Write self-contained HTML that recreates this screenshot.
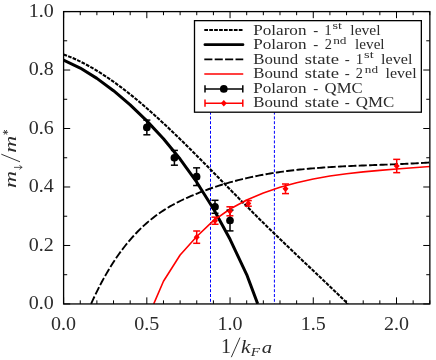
<!DOCTYPE html>
<html><head><meta charset="utf-8"><title>chart</title>
<style>
html,body{margin:0;padding:0;background:#fff;}
svg{display:block;font-family:"Liberation Serif",serif;will-change:transform;transform:translateZ(0);}
text{fill:#2b2b2b;}
</style></head><body>
<svg width="436" height="360" viewBox="0 0 436 360">
<rect x="0" y="0" width="436" height="360" fill="#ffffff"/>
<defs><clipPath id="cp"><rect x="63.6" y="11.6" width="366.25" height="292.34999999999997"/></clipPath></defs>

<g clip-path="url(#cp)" fill="none">
<line x1="210.50" x2="210.50" y1="30" y2="303.95" stroke="#0000ff" stroke-width="1.0" stroke-dasharray="3.0 1.8"/>
<line x1="274.40" x2="274.40" y1="30" y2="303.95" stroke="#0000ff" stroke-width="1.0" stroke-dasharray="3.0 1.8"/>
<path d="M63.50,54.42 L66.37,55.48 L69.25,56.61 L72.12,57.81 L74.99,59.08 L77.86,60.40 L80.74,61.79 L83.61,63.25 L86.48,64.76 L89.35,66.33 L92.23,67.96 L95.10,69.65 L97.97,71.39 L100.85,73.19 L103.72,75.04 L106.59,76.94 L109.46,78.89 L112.34,80.89 L115.21,82.94 L118.08,85.03 L120.95,87.17 L123.83,89.35 L126.70,91.58 L129.57,93.85 L132.45,96.16 L135.32,98.50 L138.19,100.89 L141.06,103.31 L143.94,105.76 L146.81,108.25 L149.68,110.77 L152.55,113.33 L155.43,115.91 L158.30,118.52 L161.17,121.16 L164.05,123.83 L166.92,126.52 L169.79,129.23 L172.66,131.97 L175.54,134.73 L178.41,137.50 L181.28,140.30 L184.15,143.11 L187.03,145.94 L189.90,148.79 L192.77,151.64 L195.65,154.51 L198.52,157.39 L201.39,160.28 L204.26,163.18 L207.14,166.09 L210.01,169.00 L212.88,171.92 L215.75,174.84 L218.63,177.76 L221.50,180.69 L224.37,183.62 L227.25,186.54 L230.12,189.47 L232.99,192.39 L235.86,195.31 L238.74,198.23 L241.61,201.14 L244.48,204.04 L247.35,206.93 L250.23,209.82 L253.10,212.69 L255.97,215.56 L258.85,218.41 L261.72,221.25 L264.59,224.07 L267.46,226.88 L270.34,229.68 L273.21,232.47 L276.08,235.25 L278.95,238.02 L281.83,240.79 L284.70,243.54 L287.57,246.29 L290.45,249.03 L293.32,251.76 L296.19,254.50 L299.06,257.23 L301.94,259.95 L304.81,262.68 L307.68,265.40 L310.55,268.12 L313.43,270.85 L316.30,273.57 L319.17,276.30 L322.05,279.03 L324.92,281.77 L327.79,284.51 L330.66,287.25 L333.54,290.00 L336.41,292.76 L339.28,295.53 L342.15,298.31 L345.03,301.09 L347.90,303.89" stroke="#000" stroke-width="2.1" stroke-dasharray="3.7 1.23"/>
<path d="M63.50,60.00 L80.25,68.08 L96.89,78.35 L113.53,90.69 L130.18,104.93 L146.82,120.89 L163.47,138.77 L180.11,159.03 L196.76,182.18 L213.40,208.75 L230.05,239.32 L246.69,274.54 L257.70,303.89" stroke="#000" stroke-width="3.0" stroke-linejoin="round"/>
<path d="M91.10,303.84 L93.23,299.18 L95.36,294.68 L97.49,290.32 L99.63,286.12 L101.76,282.06 L103.89,278.14 L106.02,274.35 L108.15,270.70 L110.28,267.17 L112.41,263.78 L114.55,260.50 L116.68,257.33 L118.81,254.28 L120.94,251.34 L123.07,248.51 L125.20,245.77 L127.33,243.13 L129.47,240.59 L131.60,238.13 L133.73,235.76 L135.86,233.48 L137.99,231.27 L140.12,229.15 L142.25,227.10 L144.39,225.13 L146.52,223.23 L148.65,221.40 L150.78,219.64 L152.91,217.94 L155.04,216.31 L157.17,214.73 L159.31,213.22 L161.44,211.76 L163.57,210.35 L165.70,209.00 L167.83,207.69 L169.96,206.44 L172.09,205.22 L174.23,204.05 L176.36,202.92 L178.49,201.83 L180.62,200.77 L182.75,199.74 L184.88,198.74 L187.02,197.78 L189.15,196.83 L191.28,195.91 L193.41,195.02 L195.54,194.14 L197.67,193.28 L199.80,192.44 L201.94,191.61 L204.07,190.81 L206.20,190.02 L208.33,189.25 L210.46,188.50 L212.59,187.76 L214.72,187.04 L216.86,186.34 L218.99,185.65 L221.12,184.98 L223.25,184.33 L225.38,183.69 L227.51,183.06 L229.64,182.46 L231.78,181.86 L233.91,181.29 L236.04,180.72 L238.17,180.17 L240.30,179.64 L242.43,179.12 L244.56,178.61 L246.70,178.12 L248.83,177.64 L250.96,177.17 L253.09,176.72 L255.22,176.28 L257.35,175.85 L259.48,175.43 L261.62,175.03 L263.75,174.63 L265.88,174.25 L268.01,173.88 L270.14,173.52 L272.27,173.18 L274.40,172.84 L276.54,172.51 L278.67,172.20 L280.80,171.89 L282.93,171.59 L285.06,171.31 L287.19,171.03 L289.32,170.76 L291.46,170.50 L293.59,170.25 L295.72,170.01 L297.85,169.78 L299.98,169.55 L302.11,169.33 L304.24,169.12 L306.38,168.92 L308.51,168.73 L310.64,168.54 L312.77,168.36 L314.90,168.18 L317.03,168.01 L319.16,167.85 L321.30,167.69 L323.43,167.54 L325.56,167.40 L327.69,167.26 L329.82,167.12 L331.95,166.99 L334.08,166.86 L336.22,166.74 L338.35,166.63 L340.48,166.51 L342.61,166.40 L344.74,166.30 L346.87,166.19 L349.01,166.09 L351.14,166.00 L353.27,165.90 L355.40,165.81 L357.53,165.72 L359.66,165.64 L361.79,165.55 L363.93,165.47 L366.06,165.38 L368.19,165.30 L370.32,165.22 L372.45,165.14 L374.58,165.06 L376.71,164.98 L378.85,164.90 L380.98,164.82 L383.11,164.74 L385.24,164.66 L387.37,164.58 L389.50,164.50 L391.63,164.41 L393.77,164.33 L395.90,164.24 L398.03,164.15 L400.16,164.06 L402.29,163.97 L404.42,163.87 L406.55,163.77 L408.69,163.67 L410.82,163.56 L412.95,163.45 L415.08,163.34 L417.21,163.23 L419.34,163.10 L421.47,162.98 L423.61,162.85 L425.74,162.72 L427.87,162.58 L430.00,162.43" stroke="#000" stroke-width="1.9" stroke-dasharray="8.1 2.3"/>
<path d="M153.75,303.90 L163.47,281.25 L180.12,255.00 L196.76,236.50 L213.41,220.68 L230.05,208.99 L246.69,199.99 L263.34,192.98 L279.99,187.32 L296.63,182.70 L313.28,178.97 L329.92,176.01 L346.57,173.68 L363.21,171.83 L379.86,170.33 L396.50,169.03 L413.15,167.81 L430.00,166.50" stroke="#ff0000" stroke-width="1.6" stroke-linejoin="round"/>
</g>
<g stroke="#000" stroke-width="1.5" fill="#000"><line x1="146.85" x2="146.85" y1="120.10" y2="134.80"/><line x1="143.35" x2="150.35" y1="120.10" y2="120.10"/><line x1="143.35" x2="150.35" y1="134.80" y2="134.80"/><circle cx="146.85" cy="127.45" r="3.85" stroke="none"/></g>
<g stroke="#000" stroke-width="1.5" fill="#000"><line x1="174.40" x2="174.40" y1="150.40" y2="165.20"/><line x1="170.90" x2="177.90" y1="150.40" y2="150.40"/><line x1="170.90" x2="177.90" y1="165.20" y2="165.20"/><circle cx="174.40" cy="157.80" r="3.85" stroke="none"/></g>
<g stroke="#000" stroke-width="1.5" fill="#000"><line x1="196.60" x2="196.60" y1="167.85" y2="185.55"/><line x1="193.10" x2="200.10" y1="167.85" y2="167.85"/><line x1="193.10" x2="200.10" y1="185.55" y2="185.55"/><circle cx="196.60" cy="176.70" r="3.85" stroke="none"/></g>
<g stroke="#000" stroke-width="1.5" fill="#000"><line x1="215.00" x2="215.00" y1="200.30" y2="213.30"/><line x1="211.50" x2="218.50" y1="200.30" y2="200.30"/><line x1="211.50" x2="218.50" y1="213.30" y2="213.30"/><circle cx="215.00" cy="206.80" r="3.85" stroke="none"/></g>
<g stroke="#000" stroke-width="1.5" fill="#000"><line x1="230.00" x2="230.00" y1="210.10" y2="230.90"/><line x1="226.50" x2="233.50" y1="210.10" y2="210.10"/><line x1="226.50" x2="233.50" y1="230.90" y2="230.90"/><circle cx="230.00" cy="220.50" r="3.85" stroke="none"/></g>
<g stroke="#ff0000" stroke-width="1.5" fill="#ff0000"><line x1="196.70" x2="196.70" y1="231.00" y2="243.30"/><line x1="193.20" x2="200.20" y1="231.00" y2="231.00"/><line x1="193.20" x2="200.20" y1="243.30" y2="243.30"/><path d="M196.70,233.85 L199.70,237.15 L196.70,240.45 L193.70,237.15Z" stroke="none"/></g>
<g stroke="#ff0000" stroke-width="1.5" fill="#ff0000"><line x1="215.00" x2="215.00" y1="217.15" y2="224.25"/><line x1="211.50" x2="218.50" y1="217.15" y2="217.15"/><line x1="211.50" x2="218.50" y1="224.25" y2="224.25"/><path d="M215.00,217.40 L218.00,220.70 L215.00,224.00 L212.00,220.70Z" stroke="none"/></g>
<g stroke="#ff0000" stroke-width="1.5" fill="#ff0000"><line x1="229.90" x2="229.90" y1="206.80" y2="215.80"/><line x1="226.40" x2="233.40" y1="206.80" y2="206.80"/><line x1="226.40" x2="233.40" y1="215.80" y2="215.80"/><path d="M229.90,208.00 L232.90,211.30 L229.90,214.60 L226.90,211.30Z" stroke="none"/></g>
<g stroke="#ff0000" stroke-width="1.5" fill="#ff0000"><line x1="248.30" x2="248.30" y1="200.60" y2="206.20"/><line x1="244.80" x2="251.80" y1="200.60" y2="200.60"/><line x1="244.80" x2="251.80" y1="206.20" y2="206.20"/><path d="M248.30,200.10 L251.30,203.40 L248.30,206.70 L245.30,203.40Z" stroke="none"/></g>
<g stroke="#ff0000" stroke-width="1.5" fill="#ff0000"><line x1="285.50" x2="285.50" y1="184.00" y2="193.60"/><line x1="282.00" x2="289.00" y1="184.00" y2="184.00"/><line x1="282.00" x2="289.00" y1="193.60" y2="193.60"/><path d="M285.50,185.50 L288.50,188.80 L285.50,192.10 L282.50,188.80Z" stroke="none"/></g>
<g stroke="#ff0000" stroke-width="1.5" fill="#ff0000"><line x1="396.70" x2="396.70" y1="159.35" y2="172.65"/><line x1="393.20" x2="400.20" y1="159.35" y2="159.35"/><line x1="393.20" x2="400.20" y1="172.65" y2="172.65"/><path d="M396.70,162.70 L399.70,166.00 L396.70,169.30 L393.70,166.00Z" stroke="none"/></g>
<rect x="63.6" y="11.6" width="366.25" height="292.34999999999997" fill="none" stroke="#000" stroke-width="1.3"/>
<path d="M63.60,303.95 v-6.6 M63.60,11.6 v6.6 M80.25,303.95 v-3.6 M80.25,11.6 v3.6 M96.89,303.95 v-3.6 M96.89,11.6 v3.6 M113.53,303.95 v-3.6 M113.53,11.6 v3.6 M130.18,303.95 v-3.6 M130.18,11.6 v3.6 M146.82,303.95 v-6.6 M146.82,11.6 v6.6 M163.47,303.95 v-3.6 M163.47,11.6 v3.6 M180.11,303.95 v-3.6 M180.11,11.6 v3.6 M196.76,303.95 v-3.6 M196.76,11.6 v3.6 M213.41,303.95 v-3.6 M213.41,11.6 v3.6 M230.05,303.95 v-6.6 M230.05,11.6 v6.6 M246.69,303.95 v-3.6 M246.69,11.6 v3.6 M263.34,303.95 v-3.6 M263.34,11.6 v3.6 M279.99,303.95 v-3.6 M279.99,11.6 v3.6 M296.63,303.95 v-3.6 M296.63,11.6 v3.6 M313.27,303.95 v-6.6 M313.27,11.6 v6.6 M329.92,303.95 v-3.6 M329.92,11.6 v3.6 M346.56,303.95 v-3.6 M346.56,11.6 v3.6 M363.21,303.95 v-3.6 M363.21,11.6 v3.6 M379.85,303.95 v-3.6 M379.85,11.6 v3.6 M396.50,303.95 v-6.6 M396.50,11.6 v6.6 M413.15,303.95 v-3.6 M413.15,11.6 v3.6 M429.79,303.95 v-3.6 M429.79,11.6 v3.6 M63.6,303.95 h6.6 M429.85,303.95 h-6.6 M63.6,274.71 h3.6 M429.85,274.71 h-3.6 M63.6,245.47 h6.6 M429.85,245.47 h-6.6 M63.6,216.23 h3.6 M429.85,216.23 h-3.6 M63.6,186.99 h6.6 M429.85,186.99 h-6.6 M63.6,157.75 h3.6 M429.85,157.75 h-3.6 M63.6,128.51 h6.6 M429.85,128.51 h-6.6 M63.6,99.27 h3.6 M429.85,99.27 h-3.6 M63.6,70.03 h6.6 M429.85,70.03 h-6.6 M63.6,40.79 h3.6 M429.85,40.79 h-3.6 M63.6,11.55 h6.6 M429.85,11.55 h-6.6" stroke="#000" stroke-width="1.0" fill="none"/>
<text x="63.60" y="329.8" font-size="19" text-anchor="middle" textLength="25" lengthAdjust="spacingAndGlyphs">0.0</text>
<text x="146.82" y="329.8" font-size="19" text-anchor="middle" textLength="25" lengthAdjust="spacingAndGlyphs">0.5</text>
<text x="230.05" y="329.8" font-size="19" text-anchor="middle" textLength="25" lengthAdjust="spacingAndGlyphs">1.0</text>
<text x="313.27" y="329.8" font-size="19" text-anchor="middle" textLength="25" lengthAdjust="spacingAndGlyphs">1.5</text>
<text x="396.50" y="329.8" font-size="19" text-anchor="middle" textLength="25" lengthAdjust="spacingAndGlyphs">2.0</text>
<text x="53.7" y="309.35" font-size="19" text-anchor="end" textLength="25" lengthAdjust="spacingAndGlyphs">0.0</text>
<text x="53.7" y="250.87" font-size="19" text-anchor="end" textLength="25" lengthAdjust="spacingAndGlyphs">0.2</text>
<text x="53.7" y="192.39" font-size="19" text-anchor="end" textLength="25" lengthAdjust="spacingAndGlyphs">0.4</text>
<text x="53.7" y="133.91" font-size="19" text-anchor="end" textLength="25" lengthAdjust="spacingAndGlyphs">0.6</text>
<text x="53.7" y="75.43" font-size="19" text-anchor="end" textLength="25" lengthAdjust="spacingAndGlyphs">0.8</text>
<text x="53.7" y="16.95" font-size="19" text-anchor="end" textLength="25" lengthAdjust="spacingAndGlyphs">1.0</text>
<text x="226.0" y="352.6" font-size="20" text-anchor="middle">1</text>
<line x1="231.3" y1="357.2" x2="240.0" y2="337.6" stroke="#2b2b2b" stroke-width="0.95"/>
<text x="241.0" y="352.6" font-size="19" font-style="italic" textLength="9.4" lengthAdjust="spacingAndGlyphs">k</text>
<text x="250.8" y="356.0" font-size="13.5" font-style="italic" textLength="9.3" lengthAdjust="spacingAndGlyphs">F</text>
<text x="261.8" y="352.6" font-size="17.6" font-style="italic" textLength="10.4" lengthAdjust="spacingAndGlyphs">a</text>
<g transform="translate(15.6,188.1) rotate(-90)"><text x="0" y="0" font-size="17.6" font-style="italic" textLength="17.0" lengthAdjust="spacingAndGlyphs">m</text><path d="M20.75,-1.6 V6.3 M18.5,4.0 Q20.4,4.9 20.75,6.6 Q21.1,4.9 23.0,4.0" stroke="#2b2b2b" stroke-width="0.8" fill="none"/><line x1="26.3" y1="4.4" x2="33.9" y2="-14.3" stroke="#2b2b2b" stroke-width="0.95"/><text x="35.3" y="0" font-size="17.6" font-style="italic" textLength="17.0" lengthAdjust="spacingAndGlyphs">m</text><path d="M55.80,-12.70 L55.80,-7.50 M58.05,-11.40 L53.55,-8.80 M58.05,-8.80 L53.55,-11.40" stroke="#2b2b2b" stroke-width="0.9" fill="none"/></g>
<rect x="194.5" y="20.65" width="226.85000000000002" height="91.55000000000001" fill="#fff" stroke="#000" stroke-width="1.3"/>
<line x1="204.3" x2="243.25" y1="30.0" y2="30.0" stroke="#000" stroke-width="2.1" stroke-dasharray="3.7 1.23"/>
<line x1="205.0" x2="242.9" y1="44.65" y2="44.65" stroke="#000" stroke-width="2.9" stroke-linecap="round"/>
<line x1="204.3" x2="243.25" y1="59.4" y2="59.4" stroke="#000" stroke-width="1.9" stroke-dasharray="8.1 2.3"/>
<line x1="204.3" x2="243.25" y1="74.0" y2="74.0" stroke="#ff0000" stroke-width="1.6"/>
<g stroke="#000" stroke-width="1.5" fill="#000"><line x1="205.0" x2="242.8" y1="88.9" y2="88.9"/><line x1="205.0" x2="205.0" y1="85.30000000000001" y2="92.5"/><line x1="242.8" x2="242.8" y1="85.30000000000001" y2="92.5"/><circle cx="223.8" cy="88.9" r="3.85" stroke="none"/></g>
<g stroke="#ff0000" stroke-width="1.5" fill="#ff0000"><line x1="205.0" x2="242.8" y1="103.2" y2="103.2"/><line x1="205.0" x2="205.0" y1="99.60000000000001" y2="106.8"/><line x1="242.8" x2="242.8" y1="99.60000000000001" y2="106.8"/><path d="M223.8,99.9 L226.8,103.2 L223.8,106.5 L220.8,103.2Z" stroke="none"/></g>
<text x="253.2" y="34.5" font-size="15" textLength="53.3" lengthAdjust="spacingAndGlyphs">Polaron</text><text x="315.70" y="34.5" font-size="15" text-anchor="middle">-</text><text x="328.10" y="34.5" font-size="15" text-anchor="middle">1</text><text x="332.5" y="29.3" font-size="9.8" textLength="9.5" lengthAdjust="spacingAndGlyphs">st</text><text x="350.3" y="34.5" font-size="15" textLength="30.3" lengthAdjust="spacingAndGlyphs">level</text>
<text x="253.2" y="49.0" font-size="15" textLength="53.3" lengthAdjust="spacingAndGlyphs">Polaron</text><text x="315.70" y="49.0" font-size="15" text-anchor="middle">-</text><text x="324.8" y="49.0" font-size="15" textLength="7.2" lengthAdjust="spacingAndGlyphs">2</text><text x="333.2" y="43.8" font-size="9.8" textLength="13.3" lengthAdjust="spacingAndGlyphs">nd</text><text x="355.1" y="49.0" font-size="15" textLength="29.5" lengthAdjust="spacingAndGlyphs">level</text>
<text x="253.2" y="63.5" font-size="15" textLength="44.9" lengthAdjust="spacingAndGlyphs">Bound</text><text x="304.8" y="63.5" font-size="15" textLength="34.3" lengthAdjust="spacingAndGlyphs">state</text><text x="347.15" y="63.5" font-size="15" text-anchor="middle">-</text><text x="359.40" y="63.5" font-size="15" text-anchor="middle">1</text><text x="364.1" y="58.3" font-size="9.8" textLength="9.6" lengthAdjust="spacingAndGlyphs">st</text><text x="381.0" y="63.5" font-size="15" textLength="31.4" lengthAdjust="spacingAndGlyphs">level</text>
<text x="253.2" y="78.0" font-size="15" textLength="44.9" lengthAdjust="spacingAndGlyphs">Bound</text><text x="304.8" y="78.0" font-size="15" textLength="34.3" lengthAdjust="spacingAndGlyphs">state</text><text x="347.15" y="78.0" font-size="15" text-anchor="middle">-</text><text x="355.8" y="78.0" font-size="15" textLength="7.1" lengthAdjust="spacingAndGlyphs">2</text><text x="364.8" y="72.8" font-size="9.8" textLength="13.2" lengthAdjust="spacingAndGlyphs">nd</text><text x="385.5" y="78.0" font-size="15" textLength="31.1" lengthAdjust="spacingAndGlyphs">level</text>
<text x="253.2" y="93.0" font-size="15" textLength="53.3" lengthAdjust="spacingAndGlyphs">Polaron</text><text x="315.70" y="93.0" font-size="15" text-anchor="middle">-</text><text x="324.6" y="93.0" font-size="15" textLength="38.0" lengthAdjust="spacingAndGlyphs">QMC</text>
<text x="253.2" y="107.4" font-size="15" textLength="44.9" lengthAdjust="spacingAndGlyphs">Bound</text><text x="304.8" y="107.4" font-size="15" textLength="34.3" lengthAdjust="spacingAndGlyphs">state</text><text x="347.15" y="107.4" font-size="15" text-anchor="middle">-</text><text x="355.8" y="107.4" font-size="15" textLength="38.5" lengthAdjust="spacingAndGlyphs">QMC</text>
</svg></body></html>
